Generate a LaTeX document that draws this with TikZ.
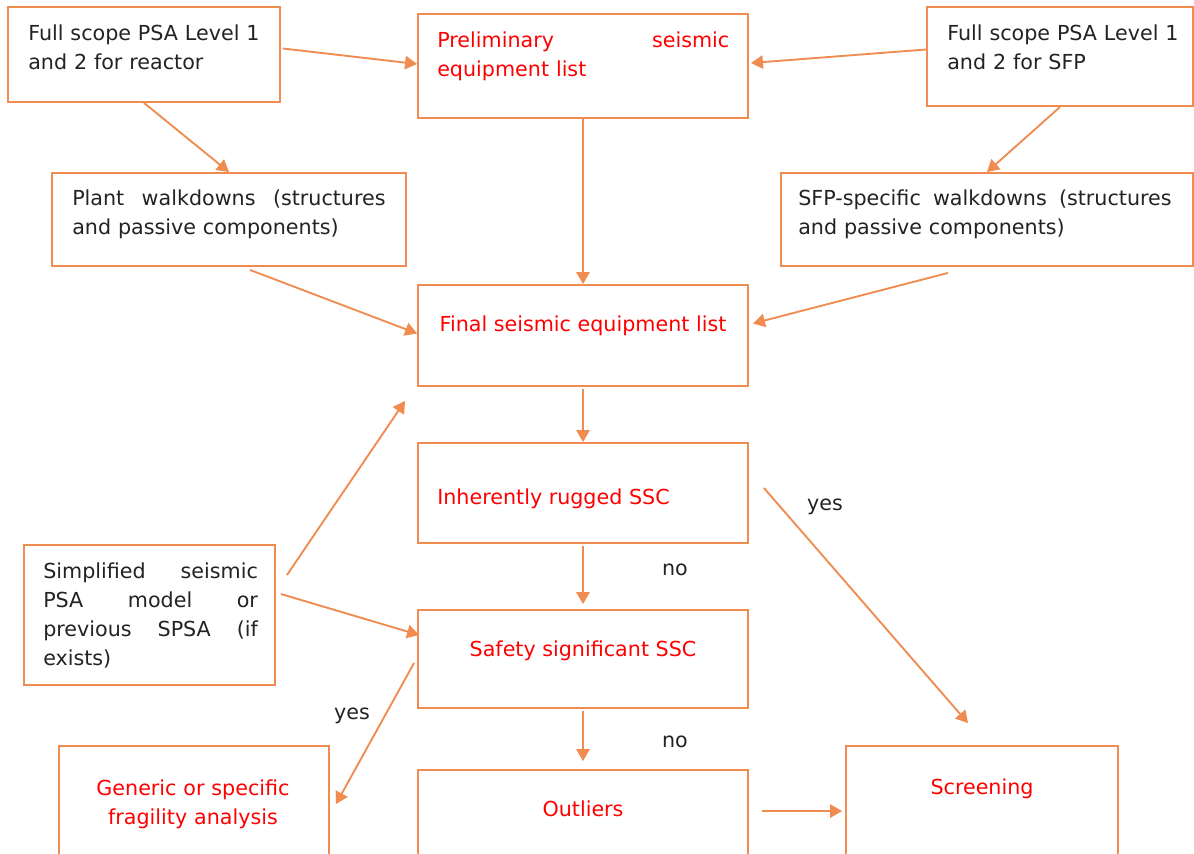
\documentclass[tikz,border=0pt]{standalone}
\usepackage{fontspec}
\setmainfont{DejaVu Sans}
\usetikzlibrary{arrows.meta,fit}
\definecolor{boxorange}{RGB}{240,140,80}
\definecolor{redtext}{RGB}{255,0,0}
\definecolor{darktext}{RGB}{35,35,35}
\tikzset{
  box/.style={draw=boxorange,line width=1.4pt,inner sep=0pt},
  txt/.style={anchor=base west,inner sep=0pt,align=left,text=darktext,
    font=\fontsize{15.5pt}{21.75pt}\selectfont},
  redtxt/.style={txt,text=redtext},
  midtxt/.style={redtxt,anchor=base,align=center},
  arr/.style={draw=boxorange,line width=1.4pt,-{Triangle[length=9pt,width=10pt]}}
}
\begin{document}
\begin{tikzpicture}[x=0.75pt,y=-0.75pt]
\clip (0,0) rectangle (1194,853);
\fill[white] (0,0) rectangle (1194,853);
% boxes
\node[box,fit={(8,7) (280,102)}] (reactor) {};
\node[box,fit={(418,14) (748,118)}] (prelim) {};
\node[box,fit={(927,7) (1193,106)}] (sfp) {};
\node[box,fit={(52,173) (406,266)}] (plantwalk) {};
\node[box,fit={(781,173) (1193,266)}] (sfpwalk) {};
\node[box,fit={(418,285) (748,386)}] (final) {};
\node[box,fit={(418,443) (748,543)}] (rugged) {};
\node[box,fit={(24,545) (275,685)}] (simplified) {};
\node[box,fit={(418,610) (748,708)}] (safety) {};
\node[box,fit={(59,746) (329,900)}] (fragility) {};
\node[box,fit={(418,770) (748,900)}] (outliers) {};
\node[box,fit={(846,746) (1118,900)}] (screening) {};
% texts
\node[txt,text width=180pt] (reactortxt) at (28,40) {Full scope PSA Level 1\\and 2 for reactor};
\node[redtxt,text width=219pt] (prelimtxt) at (437,47) {Preliminary\hfill seismic\\equipment list};
\node[txt,text width=180pt] (sfptxt) at (947,40) {Full scope PSA Level 1\\and 2 for SFP};
\node[txt,text width=235pt] (plantwalktxt) at (72,205) {Plant\hfill walkdowns\hfill (structures\\and passive components)};
\node[txt,text width=280pt] (sfpwalktxt) at (798,205) {SFP-specific\hfill walkdowns\hfill (structures\\and passive components)};
\node[midtxt] (finaltxt) at (583,331) {Final seismic equipment list};
\node[redtxt] (ruggedtxt) at (437,504) {Inherently rugged SSC};
\node[txt,text width=161pt] (simplifiedtxt) at (43,578) {Simplified\hfill seismic\\PSA\hfill model\hfill or\\previous\hfill SPSA\hfill (if\\exists)};
\node[midtxt] (safetytxt) at (583,656) {Safety significant SSC};
\node[midtxt,text width=190pt] (fragilitytxt) at (193,795) {Generic or specific\\fragility analysis};
\node[midtxt] (outlierstxt) at (583,816) {Outliers};
\node[midtxt] (screeningtxt) at (982,794) {Screening};
% decisions
\node[txt,anchor=center] (no1) at (675,570) {no};
\node[txt,anchor=center] (no2) at (675,742) {no};
\node[txt,anchor=center] (yes1) at (825,507) {yes};
\node[txt,anchor=center] (yes2) at (352,716) {yes};
% arrows
\draw[arr] ([shift={(2,-6)}]reactor.east) -- ([shift={(0,-2)}]prelim.west);
\draw[arr] ([shift={(0,-7)}]sfp.west) -- ([shift={(2,-3)}]prelim.east);
\draw[arr] (reactor.south) -- (plantwalk.north);
\draw[arr] (sfp.south) -- (sfpwalk.north);
\draw[arr] (prelim.south) -- (final.north);
\draw[arr] ([shift={(21,3)}]plantwalk.south) -- ([shift={(0,-2)}]final.west);
\draw[arr] ([shift={(-39,6)}]sfpwalk.south) -- ([shift={(4,-12)}]final.east);
\draw[arr] ([shift={(0,2)}]final.south) -- (rugged.north);
\draw[arr] ([shift={(11,-40)}]simplified.east) -- ([shift={(-12,14)}]final.south west);
\draw[arr] ([shift={(5,-21)}]simplified.east) -- ([shift={(2,-24)}]safety.west);
\draw[arr] ([shift={(0,2)}]rugged.south) -- ([shift={(0,-5)}]safety.north);
\draw[arr] ([shift={(15,-5)}]rugged.east) -- ([shift={(-14,-22)}]screening.north);
\draw[arr] ([shift={(-3,4)}]safety.west) -- ([shift={(6,59)}]fragility.north east);
\draw[arr] ([shift={(0,2)}]safety.south) -- ([shift={(0,-8)}]outliers.north);
\draw[arr] ([shift={(13,42)}]outliers.north east) -- ([shift={(-3,66)}]screening.north west);
\end{tikzpicture}
\end{document}
